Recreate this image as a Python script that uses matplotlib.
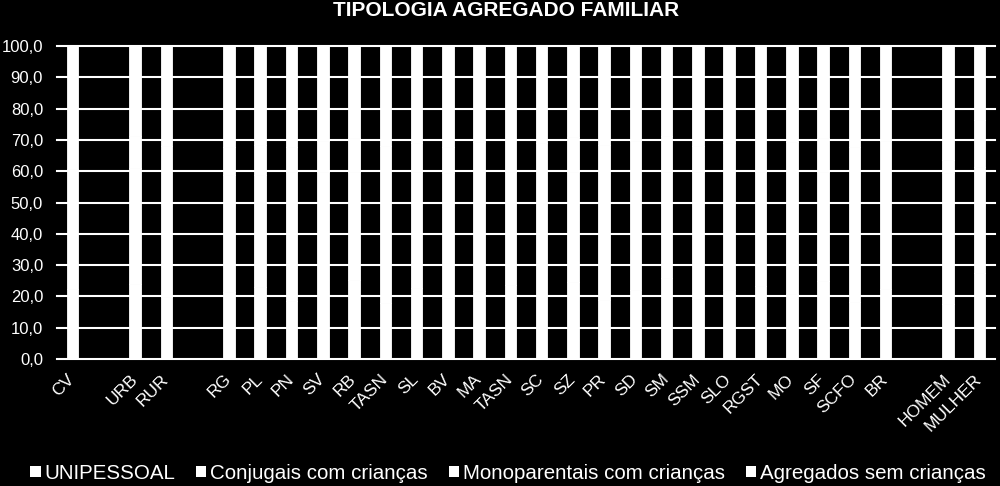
import matplotlib
matplotlib.use("Agg")
import matplotlib.pyplot as plt
import matplotlib.transforms as mtransforms
import numpy as np
from matplotlib.patches import Patch

plt.rcParams['font.family'] = ['Liberation Sans', 'DejaVu Sans']

TITLE = "TIPOLOGIA AGREGADO FAMILIAR"

categories = ['CV', '', 'URB', 'RUR', '', 'RG', 'PL', 'PN', 'SV', 'RB', 'TASN', 'SL', 'BV', 'MA',
              'TASN', 'SC', 'SZ', 'PR', 'SD', 'SM', 'SSM', 'SLO', 'RGST', 'MO', 'SF', 'SCFO', 'BR',
              '', 'HOMEM', 'MULHER']

series_names = ['UNIPESSOAL', 'Conjugais com crianças', 'Monoparentais com crianças',
                'Agregados sem crianças']

# estimated shares (%) - all segments are drawn white, every column totals 100
unipessoal = [22.5, 0, 24.1, 19.7, 0, 21.3, 23.0, 18.4, 20.6, 25.2, 17.9, 22.8, 19.5, 21.7,
              23.6, 20.2, 24.5, 18.8, 22.1, 26.0, 19.1, 21.9, 23.3, 20.9, 24.8, 18.2, 22.4,
              0, 17.5, 27.4]
conjugais = [38.1, 0, 36.8, 40.3, 0, 37.5, 35.9, 41.2, 39.0, 34.7, 42.6, 37.0, 39.8, 38.4,
             36.2, 40.1, 35.3, 41.7, 37.9, 33.8, 40.6, 38.2, 36.5, 39.4, 35.0, 42.0, 37.6,
             0, 41.9, 34.1]
monoparentais = [9.4, 0, 10.2, 7.9, 0, 8.8, 9.6, 8.1, 9.9, 10.8, 7.5, 9.1, 8.4, 9.3,
                 10.1, 8.7, 11.0, 7.8, 9.5, 11.4, 8.2, 9.0, 10.4, 8.9, 10.7, 7.6, 9.7,
                 0, 4.3, 14.8]
sem_criancas = [30.0, 0, 28.9, 32.1, 0, 32.4, 31.5, 32.3, 30.5, 29.3, 32.0, 31.1, 32.3, 30.6,
                30.1, 31.0, 29.2, 31.7, 30.5, 28.8, 32.1, 30.9, 29.8, 30.8, 29.5, 32.2, 30.3,
                0, 36.3, 23.7]

y_ticks = [0, 10, 20, 30, 40, 50, 60, 70, 80, 90, 100]

fig = plt.figure(figsize=(10, 4.86), dpi=100, facecolor='black')
ax = fig.add_axes([0.057, 0.2613, 0.938, 0.6440])
ax.set_facecolor('black')

x = np.arange(len(categories))
bottom = np.zeros(len(categories))
for name, vals in zip(series_names, [unipessoal, conjugais, monoparentais, sem_criancas]):
    vals = np.array(vals, dtype=float)
    ax.bar(x, vals, bottom=bottom, width=0.37, color='white', edgecolor='white',
           linewidth=0.6, label=name, zorder=2)
    bottom += vals

ax.set_xlim(-0.5, len(categories) - 0.5)
ax.set_ylim(0, 100)
ax.set_yticks(y_ticks)
ax.set_yticklabels([f"{v:.1f}".replace('.', ',') for v in y_ticks], fontsize=12, color='white')
ax.set_xticks(x)
ax.set_xticklabels(categories, rotation=45, ha='right', va='top', fontsize=12.5, color='white')
ax.tick_params(axis='both', length=0, pad=10)
ax.tick_params(axis='x', pad=9)

# nudge the slanted labels so their upper end sits on the tick, like the original
shift = mtransforms.ScaledTranslation(5 / 100, 0, fig.dpi_scale_trans)
for lbl in ax.get_xticklabels():
    lbl.set_transform(lbl.get_transform() + shift)

for s in ax.spines.values():
    s.set_visible(False)
ax.yaxis.grid(True, color='white', linewidth=1.5)
ax.set_axisbelow(True)
for gl in ax.get_ygridlines():
    gl.set_clip_on(False)

fig.text(0.506, 0.979, TITLE, ha='center', va='center', fontsize=15, fontweight='bold',
         color='white')

handles = [Patch(facecolor='white', edgecolor='none') for _ in series_names]
fig.legend(handles, series_names, loc='center', bbox_to_anchor=(0.508, 0.026), ncol=4,
           frameon=False, fontsize=14.8, labelcolor='white', handlelength=0.5, handleheight=0.5,
           handletextpad=0.2, columnspacing=1.0)

fig.savefig('out.png', dpi=100, facecolor='black')
